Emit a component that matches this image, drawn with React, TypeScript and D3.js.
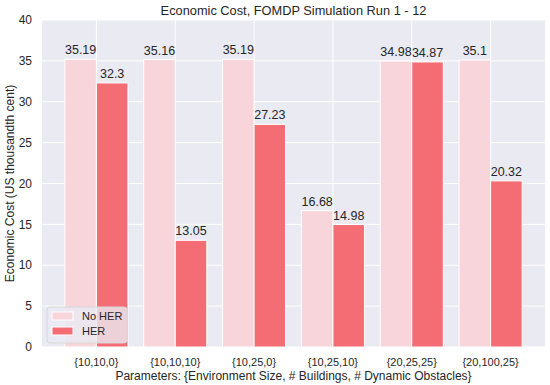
import React, { useEffect, useRef } from "react";
import * as d3 from "d3";

const categories = ["{10,10,0}", "{10,10,10}", "{10,25,0}", "{10,25,10}", "{20,25,25}", "{20,100,25}"];
const noHer = [35.19, 35.16, 35.19, 16.68, 34.98, 35.1];
const her = [32.3, 13.05, 27.23, 14.98, 34.87, 20.32];
const seriesNames = ["No HER", "HER"];
const seriesColors = ["#f8d5db", "#f46d75"];
const yTicks = [0, 5, 10, 15, 20, 25, 30, 35, 40];

const width = 550;
const height = 385;
const font = "'Liberation Sans', Arial, sans-serif";

const App = () => {
  const svgRef = useRef(null);

  useEffect(() => {
    const margin = { top: 20, right: 5, bottom: 38, left: 42 };
    const innerWidth = width - margin.left - margin.right;
    const innerHeight = height - margin.top - margin.bottom;

    const svg = d3.select(svgRef.current);
    svg.selectAll("*").remove();

    // x positions like matplotlib: bars of width 0.4 around integer centres
    const x = d3.scaleLinear().domain([-0.69, categories.length - 1 + 0.69]).range([0, innerWidth]);
    const y = d3.scaleLinear().domain([0, 40]).range([innerHeight, 0]);
    const barW = 0.4;

    const g = svg.append("g").attr("transform", `translate(${margin.left},${margin.top})`);

    g.append("rect")
      .attr("width", innerWidth)
      .attr("height", innerHeight)
      .attr("fill", "#eaeaf2");

    // grid
    g.selectAll(".hgrid")
      .data(yTicks)
      .join("line")
      .attr("x1", 0)
      .attr("x2", innerWidth)
      .attr("y1", (d) => y(d))
      .attr("y2", (d) => y(d))
      .attr("stroke", "#fff")
      .attr("stroke-width", 1);

    g.selectAll(".vgrid")
      .data(categories)
      .join("line")
      .attr("x1", (d, i) => x(i))
      .attr("x2", (d, i) => x(i))
      .attr("y1", 0)
      .attr("y2", innerHeight)
      .attr("stroke", "#fff")
      .attr("stroke-width", 1);

    const series = [noHer, her];
    series.forEach((vals, s) => {
      const off = s === 0 ? -barW : 0;
      g.append("g")
        .selectAll("rect")
        .data(vals)
        .join("rect")
        .attr("x", (d, i) => x(i + off))
        .attr("width", x(barW) - x(0))
        .attr("y", (d) => y(d))
        .attr("height", (d) => y(0) - y(d))
        .attr("fill", seriesColors[s])
        .attr("stroke", "#fff")
        .attr("stroke-width", 1);

      g.append("g")
        .selectAll("text")
        .data(vals)
        .join("text")
        .attr("x", (d, i) => x(i + off + barW / 2))
        .attr("y", (d) => y(d) - 5)
        .attr("text-anchor", "middle")
        .attr("font-family", font)
        .attr("font-size", 12.5)
        .attr("fill", "#262626")
        .text((d) => String(d));
    });

    // y tick labels
    g.selectAll(".ytick")
      .data(yTicks)
      .join("text")
      .attr("x", -10)
      .attr("y", (d) => y(d))
      .attr("dy", "0.35em")
      .attr("text-anchor", "end")
      .attr("font-family", font)
      .attr("font-size", 12)
      .attr("fill", "#262626")
      .text((d) => d);

    // x tick labels
    g.selectAll(".xtick")
      .data(categories)
      .join("text")
      .attr("x", (d, i) => x(i))
      .attr("y", innerHeight + 19)
      .attr("text-anchor", "middle")
      .attr("font-family", font)
      .attr("font-size", 11)
      .attr("fill", "#262626")
      .text((d) => d);

    // axis labels and title
    svg.append("text")
      .attr("x", margin.left + innerWidth / 2)
      .attr("y", 380)
      .attr("text-anchor", "middle")
      .attr("font-family", font)
      .attr("font-size", 12)
      .attr("fill", "#262626")
      .text("Parameters: {Environment Size, # Buildings, # Dynamic Obstacles}");

    svg.append("text")
      .attr("transform", `translate(14,${margin.top + innerHeight / 2}) rotate(-90)`)
      .attr("text-anchor", "middle")
      .attr("font-family", font)
      .attr("font-size", 12)
      .attr("fill", "#262626")
      .text("Economic Cost (US thousandth cent)");

    svg.append("text")
      .attr("x", margin.left + innerWidth / 2)
      .attr("y", 15)
      .attr("text-anchor", "middle")
      .attr("font-family", font)
      .attr("font-size", 12.8)
      .attr("fill", "#262626")
      .text("Economic Cost, FOMDP Simulation Run 1 - 12");

    // legend
    const lg = g.append("g").attr("transform", `translate(5,${innerHeight - 40})`);
    lg.append("rect")
      .attr("width", 80)
      .attr("height", 36)
      .attr("rx", 3)
      .attr("fill", "#eaeaf2")
      .attr("fill-opacity", 0.8)
      .attr("stroke", "#d8d8d8");
    seriesNames.forEach((name, i) => {
      lg.append("rect")
        .attr("x", 5)
        .attr("y", 5 + i * 15)
        .attr("width", 21)
        .attr("height", 8)
        .attr("fill", seriesColors[i])
        .attr("stroke", "#fff");
      lg.append("text")
        .attr("x", 35)
        .attr("y", 9 + i * 15)
        .attr("dy", "0.35em")
        .attr("font-family", font)
        .attr("font-size", 11)
        .attr("fill", "#262626")
        .text(name);
    });
  }, []);

  return (
    <svg
      ref={svgRef}
      width={width}
      height={height}
      style={{ position: "absolute", left: 0, top: 0, background: "#fff" }}
    ></svg>
  );
};

export default App;
